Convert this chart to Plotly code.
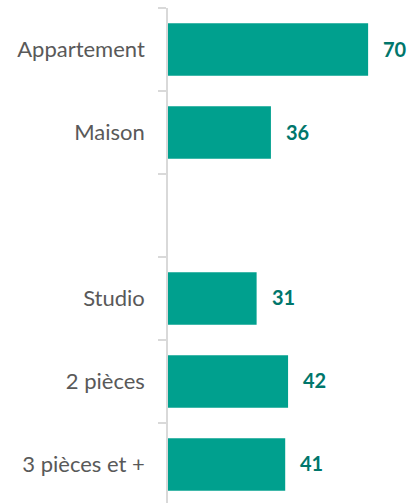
import plotly.graph_objects as go

# Housing categories; the empty label separates the two groups
categories = ["Appartement", "Maison", " ", "Studio", "2 pièces", "3 pièces et +"]
values = [70, 36, None, 31, 42, 41]

bar_color = "#00A08E"
label_color = "#00766B"
font_family = "Lato, 'Open Sans', sans-serif"

fig = go.Figure(
    go.Bar(
        x=values,
        y=categories,
        orientation="h",
        marker=dict(color=bar_color, line=dict(width=0)),
        width=0.63,
        hoverinfo="skip",
    )
)

# value labels to the right of each bar
for cat, val in zip(categories, values):
    if val is None:
        continue
    fig.add_annotation(
        x=val, y=cat, text=f"<b>{val}</b>", showarrow=False,
        xanchor="left", xshift=13, yshift=1,
        font=dict(family=font_family, size=20, color=label_color),
    )

fig.update_layout(
    width=409, height=503,
    margin=dict(l=168, r=0, t=8, b=0),
    paper_bgcolor="white", plot_bgcolor="white",
    showlegend=False,
    font=dict(family=font_family, size=19, color="#595959"),
    xaxis=dict(range=[0, 84.3], visible=False, fixedrange=True),
    yaxis=dict(
        type="category",
        categoryorder="array", categoryarray=categories,
        range=[5.464, -0.5],
        showline=True, linecolor="#D9D9D9", linewidth=1.5,
        ticks="outside", tickson="boundaries", ticklen=8,
        tickcolor="#D9D9D9", tickwidth=1.5,
        showgrid=False, zeroline=False,
        ticklabelstandoff=17,
        tickfont=dict(family=font_family, size=22, color="#595959"),
        fixedrange=True,
    ),
)

fig.write_html("out.html")
